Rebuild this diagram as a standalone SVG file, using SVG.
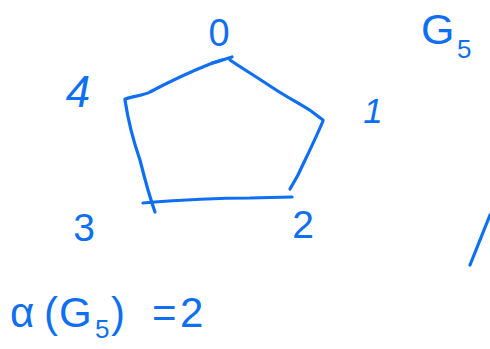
<svg xmlns="http://www.w3.org/2000/svg" width="490" height="349" viewBox="0 0 490 349">
<style>
.s{fill:none;stroke:#0f6ff2;stroke-width:3.2;stroke-linecap:round;stroke-linejoin:round}
.t{fill:#0f6ff2;font-family:"Liberation Sans",Arial,sans-serif;text-anchor:middle}
.l{fill:#0f6ff2;font-family:"Liberation Sans",Arial,sans-serif}
</style>
<rect width="490" height="349" fill="#fff"/>
<g id="connectors">
<path class="s" d="M125,99 C135,96 145,95 150,92 C165,84 185,74 210,64 L232,57"/>
<path class="s" d="M212,63 L222,60"/>
<path class="s" d="M230,60 C240,67 252,74 270,86 C285,96 300,104 311,111 L323,120"/>
<path class="s" d="M323,121 C315,140 305,160 298,175 L290,189"/>
<path class="s" d="M143,203 C180,200 220,198 250,198 L292,197"/>
<path class="s" d="M125,100 C128,120 133,140 140,160 C145,180 150,198 155,212"/>
</g>
<g id="node-0"><text class="t" x="219" y="46" font-size="38">0</text></g>
<g id="node-1"><text class="t" x="373" y="123" font-size="35" font-style="italic">1</text></g>
<g id="node-2"><text class="t" x="303" y="238" font-size="39">2</text></g>
<g id="node-3"><text class="t" x="84" y="241" font-size="39">3</text></g>
<g id="node-4"><text class="t" x="78" y="107" font-size="44" font-style="italic">4</text></g>
<g id="title"><text class="l" x="421" y="44" font-size="43">G<tspan x="457" y="58" font-size="26">5</tspan></text></g>
<g id="formula"><text class="l" x="10" y="327" font-size="42">α<tspan x="44">(</tspan><tspan x="59">G</tspan><tspan x="95" y="338" font-size="26">5</tspan><tspan x="111" y="327">)</tspan><tspan x="152">=</tspan><tspan x="180">2</tspan></text></g>
<path class="s" d="M470,265 L490,215"/>
</svg>
